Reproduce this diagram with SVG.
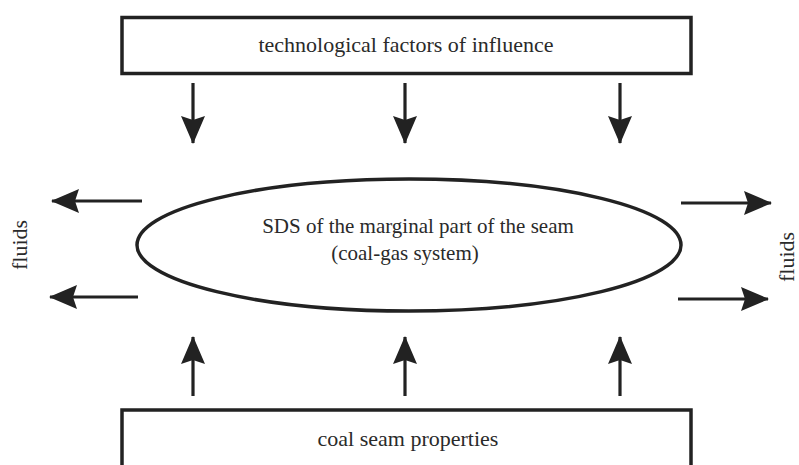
<svg xmlns="http://www.w3.org/2000/svg" width="799" height="465" viewBox="0 0 799 465">
<defs>
<style>
.box{fill:#fff;stroke:#222;stroke-width:3.5}
.ell{fill:#fff;stroke:#222;stroke-width:3.5}
.c line{stroke:#222;stroke-width:3.2;marker-end:url(#ah)}
</style>
<marker id="ah" viewBox="0 0 28 24" refX="27" refY="12" markerWidth="28" markerHeight="24" markerUnits="userSpaceOnUse" orient="auto">
<path d="M0,0 L28,12 L0,24 L4,12 Z" fill="#222"/>
</marker>
</defs>
<rect width="799" height="465" fill="#fff"/>
<g font-family="'Liberation Serif', 'Times New Roman', serif" font-size="22" fill="#2a2a2a">
<g id="top">
<rect class="box" x="122" y="17.5" width="569" height="56"/>
<text x="406" y="52" text-anchor="middle">technological factors of influence</text>
</g>
<g id="bottom">
<rect class="box" x="122" y="410" width="569" height="70"/>
<text x="408" y="446" text-anchor="middle">coal seam properties</text>
</g>
<g id="center" font-size="21">
<ellipse class="ell" cx="409" cy="245" rx="272" ry="66"/>
<text x="418" y="233" text-anchor="middle">SDS of the marginal part of the seam</text>
<text x="405" y="260" text-anchor="middle">(coal-gas system)</text>
</g>
<g id="fluids-left">
<text transform="translate(27,245) rotate(-90)" text-anchor="middle">fluids</text>
</g>
<g id="fluids-right">
<text transform="translate(794,257) rotate(-90)" text-anchor="middle">fluids</text>
</g>
</g>
<g id="connectors" class="c">
<line x1="193" y1="83" x2="193" y2="143"/>
<line x1="405" y1="83" x2="405" y2="143"/>
<line x1="620" y1="83" x2="620" y2="143"/>
<line x1="193" y1="396" x2="193" y2="337"/>
<line x1="405" y1="396" x2="405" y2="337"/>
<line x1="620" y1="396" x2="620" y2="337"/>
<line x1="142" y1="201" x2="52" y2="201"/>
<line x1="138" y1="297" x2="50" y2="297"/>
<line x1="681" y1="203" x2="771" y2="203"/>
<line x1="678" y1="299" x2="768" y2="299"/>
</g>
</svg>
